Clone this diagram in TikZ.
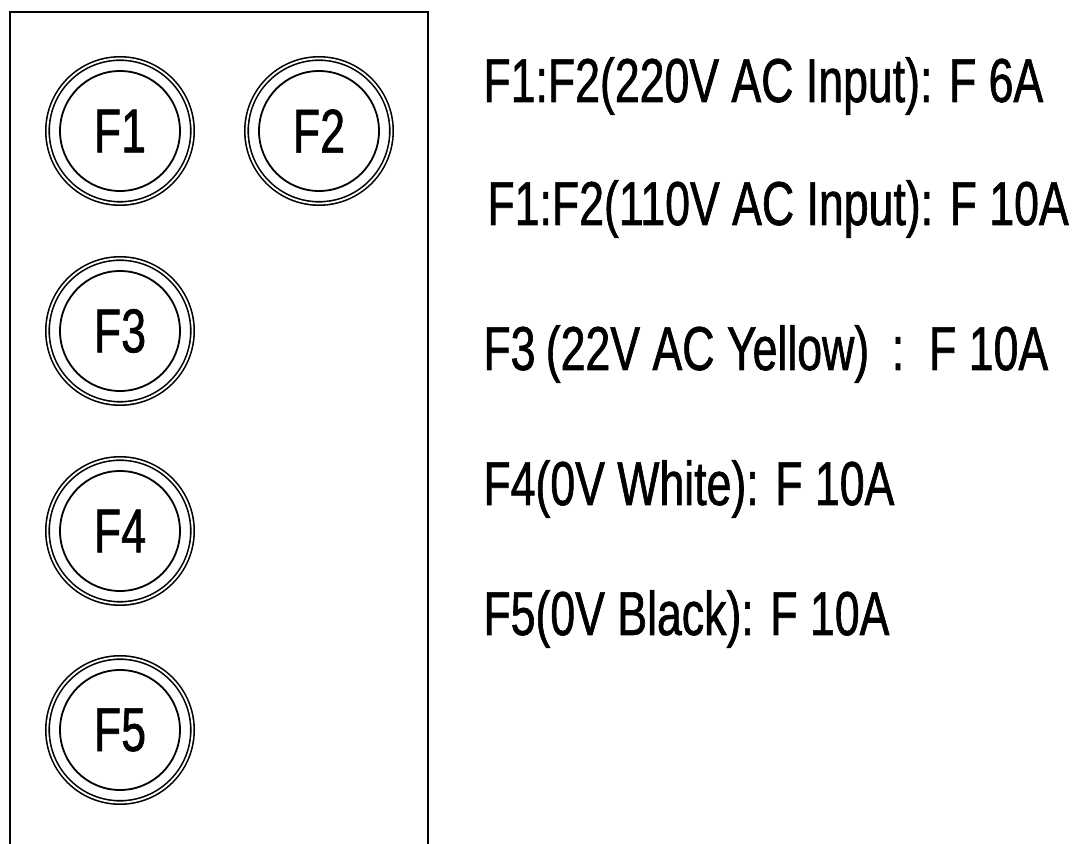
\documentclass[tikz,border=0pt]{standalone}
\usepackage{fontspec}
\newfontfamily\narrowsans[FakeStretch=0.72,FakeBold=1]{Liberation Sans}
\usetikzlibrary{positioning}

\begin{document}
\begin{tikzpicture}[x=0.5pt,y=0.5pt,thin]
\tikzstyle{fuse}=[shape=circle,draw,line width=0.9pt,minimum size=60pt,inner sep=0pt,text=black,font=\narrowsans\fontsize{31}{36}\selectfont]
\tikzstyle{ring}=[draw,double,line width=0.8pt,double distance=0.9pt]
\tikzstyle{rating}=[anchor=base west,inner sep=0pt,text=black,font=\narrowsans\fontsize{31}{36}\selectfont]

\useasboundingbox (0,0) rectangle (1078,-844);
% fuse box, open at the bottom
\draw[line width=1.25pt] (10,-844) |- (428,-12) -- (428,-844);

\node[fuse]        (F1) at (120,-131) {F1};
\node[fuse]        (F2) [right of=F1,node distance=99.5pt] {F2};
\node[fuse]        (F3) [below of=F1,node distance=100pt] {F3};
\node[fuse]        (F4) [below of=F3,node distance=100pt] {F4};
\node[fuse]        (F5) [below of=F4,node distance=99.5pt] {F5};

\draw[ring] (F1.center) circle (36.25pt);
\draw[ring] (F2.center) circle (36.25pt);
\draw[ring] (F3.center) circle (36.25pt);
\draw[ring] (F4.center) circle (36.25pt);
\draw[ring] (F5.center) circle (36.25pt);

% ratings
\node[rating]      (R1) at (483,-102) {F1:F2(220V AC Input): F 6A};
\node[rating]      (R2) at (487,-225) {F1:F2(110V AC Input): F 10A};
\node[rating]      (R3) at (483,-370) {F3\,(22V AC Yellow)\, :\ \ F 10A};
\node[rating]      (R4) at (483,-505) {F4(0V White): F 10A};
\node[rating]      (R5) at (483,-635) {F5(0V Black): F 10A};

\end{tikzpicture}
\end{document}
